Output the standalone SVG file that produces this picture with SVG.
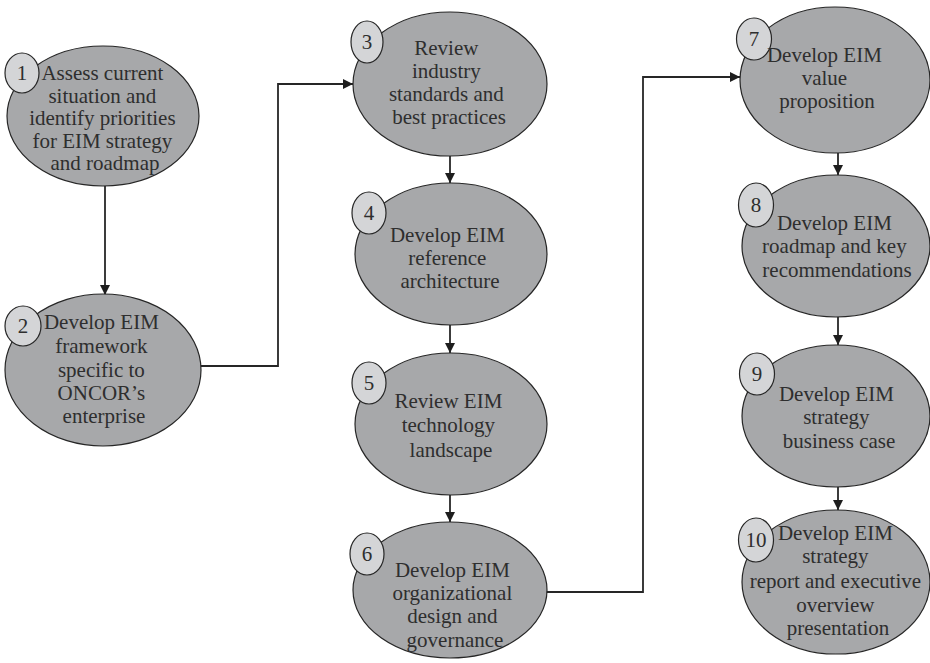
<svg xmlns="http://www.w3.org/2000/svg" width="930" height="663" viewBox="0 0 930 663">
  <style>
    .step { fill: #a7a8aa; stroke: #262626; stroke-width: 1.2; }
    .badge { fill: #d4d5d7; stroke: #262626; stroke-width: 1.2; }
    .label { font-family: "Liberation Serif", "DejaVu Serif", serif; font-size: 21px; fill: #2e2e2e; text-anchor: middle; }
    .num { font-family: "Liberation Serif", "DejaVu Serif", serif; font-size: 21px; fill: #2e2e2e; text-anchor: middle; }
    .link { fill: none; stroke: #262626; stroke-width: 1.8; }
  </style>
  <defs>
    <marker id="arrow" viewBox="0 0 10 10" refX="10" refY="5" markerWidth="10" markerHeight="10" markerUnits="userSpaceOnUse" orient="auto">
      <path d="M0,0 L10,5 L0,10 Z" fill="#1e1e1e"/>
    </marker>
  </defs>
  <rect width="930" height="663" fill="#ffffff"/>

  <g id="connectors">
    <path class="link" marker-end="url(#arrow)" d="M105,186 V295"/>
    <path class="link" marker-end="url(#arrow)" d="M201,366 H278 V84 H353"/>
    <path class="link" marker-end="url(#arrow)" d="M450,156 V183"/>
    <path class="link" marker-end="url(#arrow)" d="M450,325 V353"/>
    <path class="link" marker-end="url(#arrow)" d="M450,495 V522"/>
    <path class="link" marker-end="url(#arrow)" d="M546,592 H643 V77 H740"/>
    <path class="link" marker-end="url(#arrow)" d="M838,153 V175"/>
    <path class="link" marker-end="url(#arrow)" d="M838,317 V345"/>
    <path class="link" marker-end="url(#arrow)" d="M838,487 V510"/>
  </g>

  <g id="step1">
    <ellipse class="step" cx="103" cy="116" rx="96" ry="70"/>
    <ellipse class="badge" cx="22" cy="73" rx="17" ry="20"/>
    <text class="num" x="22" y="80">1</text>
    <text class="label">
      <tspan x="105" y="80">Assess current</tspan>
      <tspan x="105" y="102.5">situation and</tspan>
      <tspan x="105" y="125">identify priorities</tspan>
      <tspan x="105" y="147.5">for EIM strategy</tspan>
      <tspan x="105" y="170">and roadmap</tspan>
    </text>
  </g>

  <g id="step2">
    <ellipse class="step" cx="103" cy="370" rx="98" ry="76"/>
    <ellipse class="badge" cx="23" cy="326" rx="18" ry="20"/>
    <text class="num" x="23" y="333">2</text>
    <text class="label">
      <tspan x="104" y="329">Develop EIM</tspan>
      <tspan x="104" y="353">framework</tspan>
      <tspan x="104" y="377">specific to</tspan>
      <tspan x="104" y="400">ONCOR’s</tspan>
      <tspan x="104" y="423">enterprise</tspan>
    </text>
  </g>

  <g id="step3">
    <ellipse class="step" cx="450" cy="84" rx="97" ry="72"/>
    <ellipse class="badge" cx="367" cy="42" rx="16" ry="21"/>
    <text class="num" x="367" y="49">3</text>
    <text class="label">
      <tspan x="449" y="55">Review</tspan>
      <tspan x="449" y="78">industry</tspan>
      <tspan x="449" y="101">standards and</tspan>
      <tspan x="449" y="124">best practices</tspan>
    </text>
  </g>

  <g id="step4">
    <ellipse class="step" cx="451" cy="254" rx="96" ry="71"/>
    <ellipse class="badge" cx="369" cy="213" rx="17" ry="21"/>
    <text class="num" x="369" y="220">4</text>
    <text class="label">
      <tspan x="450" y="242">Develop EIM</tspan>
      <tspan x="450" y="265">reference</tspan>
      <tspan x="450" y="288">architecture</tspan>
    </text>
  </g>

  <g id="step5">
    <ellipse class="step" cx="451" cy="424" rx="96" ry="71"/>
    <ellipse class="badge" cx="369" cy="383" rx="17" ry="21"/>
    <text class="num" x="369" y="390">5</text>
    <text class="label">
      <tspan x="451" y="408">Review EIM</tspan>
      <tspan x="451" y="432">technology</tspan>
      <tspan x="451" y="457">landscape</tspan>
    </text>
  </g>

  <g id="step6">
    <ellipse class="step" cx="450" cy="590" rx="97" ry="68"/>
    <ellipse class="badge" cx="367" cy="554" rx="17" ry="21"/>
    <text class="num" x="367" y="561">6</text>
    <text class="label">
      <tspan x="455" y="577">Develop EIM</tspan>
      <tspan x="455" y="600">organizational</tspan>
      <tspan x="455" y="623">design and</tspan>
      <tspan x="455" y="647">governance</tspan>
    </text>
  </g>

  <g id="step7">
    <ellipse class="step" cx="835" cy="80" rx="95" ry="73"/>
    <ellipse class="badge" cx="754" cy="39" rx="17.5" ry="21"/>
    <text class="num" x="754" y="46">7</text>
    <text class="label">
      <tspan x="827" y="62">Develop EIM</tspan>
      <tspan x="827" y="85">value</tspan>
      <tspan x="827" y="108">proposition</tspan>
    </text>
  </g>

  <g id="step8">
    <ellipse class="step" cx="836" cy="246" rx="94" ry="71"/>
    <ellipse class="badge" cx="756" cy="205" rx="17.5" ry="22"/>
    <text class="num" x="756" y="212">8</text>
    <text class="label">
      <tspan x="837" y="230">Develop EIM</tspan>
      <tspan x="837" y="253">roadmap and key</tspan>
      <tspan x="837" y="277">recommendations</tspan>
    </text>
  </g>

  <g id="step9">
    <ellipse class="step" cx="836" cy="416" rx="94" ry="71"/>
    <ellipse class="badge" cx="757" cy="374" rx="17.5" ry="21"/>
    <text class="num" x="757" y="381">9</text>
    <text class="label">
      <tspan x="839" y="401">Develop EIM</tspan>
      <tspan x="839" y="424">strategy</tspan>
      <tspan x="839" y="448">business case</tspan>
    </text>
  </g>

  <g id="step10">
    <ellipse class="step" cx="836" cy="582" rx="94" ry="72"/>
    <ellipse class="badge" cx="756" cy="540" rx="17.5" ry="22"/>
    <text class="num" x="756" y="547">10</text>
    <text class="label">
      <tspan x="838" y="540">Develop EIM</tspan>
      <tspan x="838" y="563">strategy</tspan>
      <tspan x="838" y="588">report and executive</tspan>
      <tspan x="838" y="612">overview</tspan>
      <tspan x="838" y="635">presentation</tspan>
    </text>
  </g>
</svg>
